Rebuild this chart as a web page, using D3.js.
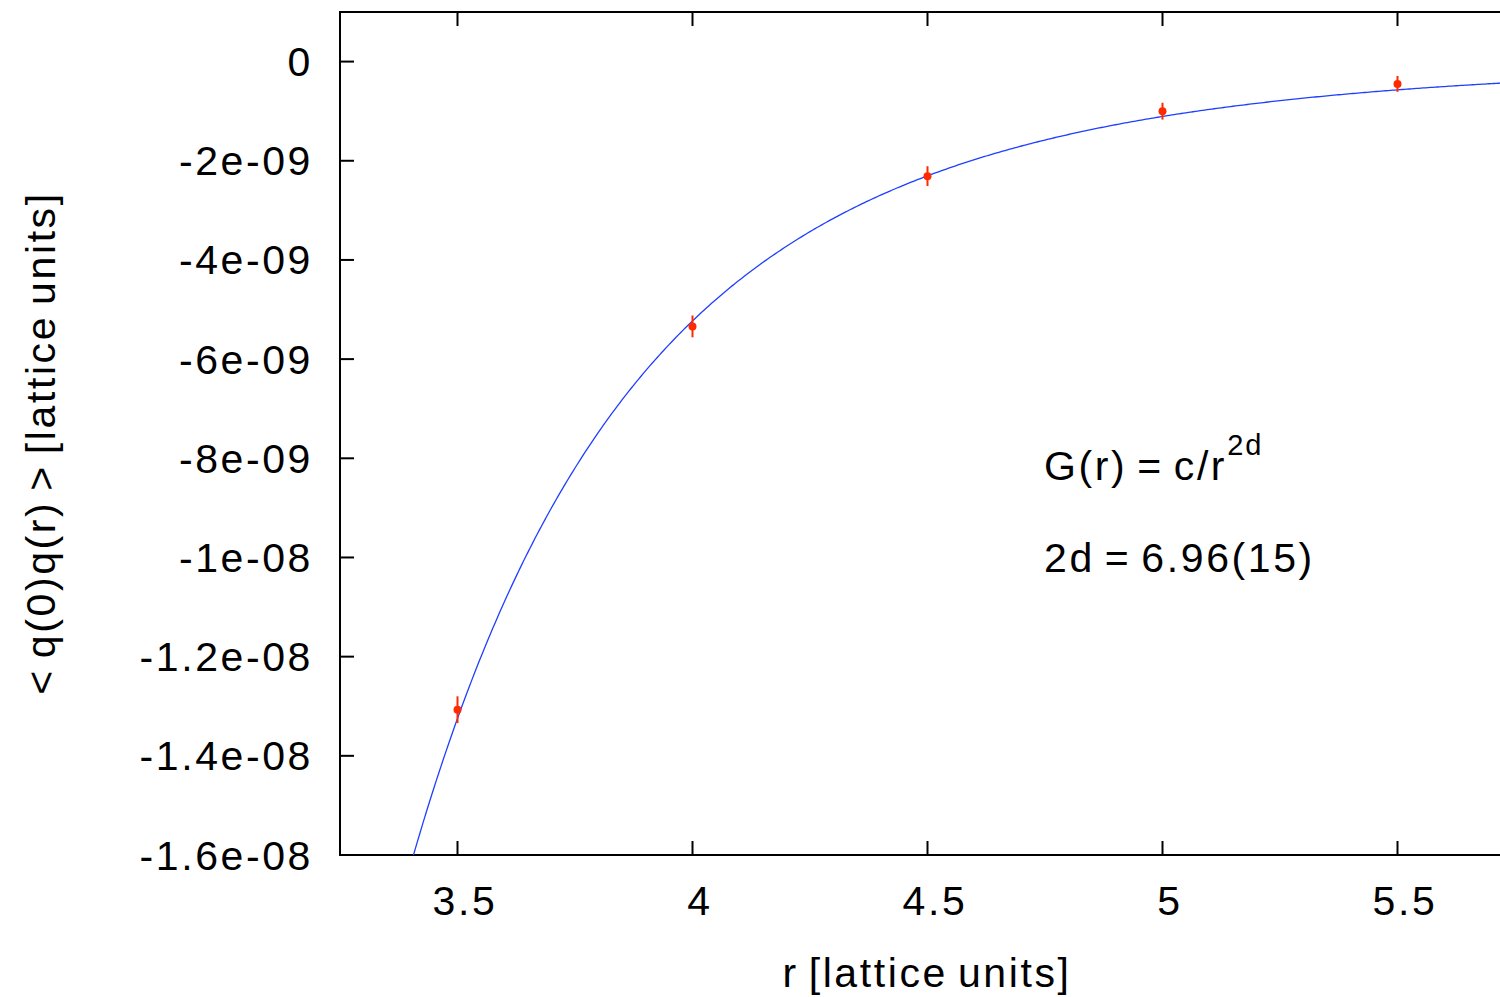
<!DOCTYPE html>
<html><head><meta charset="utf-8">
<script src="https://cdn.jsdelivr.net/npm/d3@7"></script>
<style>body{margin:0;background:#fff}svg{display:block}text{font-family:"Liberation Sans",Arial,Helvetica,sans-serif;fill:#000;letter-spacing:2.6px;word-spacing:-4px}</style>
</head><body>
<script>
const rValues = [3.5, 4.0, 4.5, 5.0, 5.5];
const gValues = [-1.307e-8, -5.34e-9, -2.31e-9, -1.00e-9, -0.45e-9];
const gErrors = [0.27e-9, 0.22e-9, 0.20e-9, 0.17e-9, 0.16e-9];
const xTicks = [3.5, 4, 4.5, 5, 5.5];
const xTickLabels = ["3.5", "4", "4.5", "5", "5.5"];
const yTicks = [0, -2e-9, -4e-9, -6e-9, -8e-9, -1e-8, -1.2e-8, -1.4e-8, -1.6e-8];
const yTickLabels = ["0", "-2e-09", "-4e-09", "-6e-09", "-8e-09", "-1e-08", "-1.2e-08", "-1.4e-08", "-1.6e-08"];
const fitC = -5.23e-9 * Math.pow(4, 6.96);
const fitExp = 6.96;

const W = 1500, H = 997;
const L = 340, T = 12, B = 855, R = 1515;
const FS = 41;
const svg = d3.select("body").append("svg").attr("width", W).attr("height", H);
const x = d3.scaleLinear().domain([3.25, 5.75]).range([L, R]);
const y = d3.scaleLinear().domain([-1.6e-8, 1e-9]).range([B, T]);

svg.append("defs").append("clipPath").attr("id", "clip")
  .append("rect").attr("x", L).attr("y", T).attr("width", R - L).attr("height", B - T);

// frame
svg.append("path").attr("d", `M${R},${T}H${L}V${B}H${R}`)
  .attr("fill", "none").attr("stroke", "#000").attr("stroke-width", 2);

// ticks
const tl = 14;
svg.append("g").selectAll("line").data(xTicks).join("line")
  .attr("x1", d => x(d)).attr("x2", d => x(d)).attr("y1", B).attr("y2", B - tl)
  .attr("stroke", "#000").attr("stroke-width", 2);
svg.append("g").selectAll("line").data(xTicks).join("line")
  .attr("x1", d => x(d)).attr("x2", d => x(d)).attr("y1", T).attr("y2", T + tl)
  .attr("stroke", "#000").attr("stroke-width", 2);
svg.append("g").selectAll("line").data(yTicks).join("line")
  .attr("x1", L).attr("x2", L + tl).attr("y1", d => y(d)).attr("y2", d => y(d))
  .attr("stroke", "#000").attr("stroke-width", 2);

svg.append("g").selectAll("text").data(xTicks).join("text")
  .attr("x", d => x(d) + 7.5).attr("y", 915).attr("text-anchor", "middle")
  .attr("font-size", FS).text((d, i) => xTickLabels[i]);
svg.append("g").selectAll("text").data(yTicks).join("text")
  .attr("x", 313).attr("y", d => y(d) + 14.5).attr("text-anchor", "end")
  .attr("font-size", FS).text((d, i) => yTickLabels[i]);

// axis labels
svg.append("text").attr("x", 927).attr("y", 987).attr("text-anchor", "middle")
  .attr("font-size", FS).text("r [lattice units]");
svg.append("text").attr("transform", "translate(55,443) rotate(-90)").attr("text-anchor", "middle")
  .attr("font-size", FS).text("< q(0)q(r) > [lattice units]");

// fit curve
const rs = d3.range(3.25, 5.76, 0.005);
svg.append("path").attr("clip-path", "url(#clip)")
  .datum(rs)
  .attr("d", d3.line().x(r => x(r)).y(r => y(fitC / Math.pow(r, fitExp))))
  .attr("fill", "none").attr("stroke", "#1f3fff").attr("stroke-width", 1.3);

// data points
const pts = svg.append("g");
pts.selectAll("line").data(rValues).join("line")
  .attr("x1", d => x(d)).attr("x2", d => x(d))
  .attr("y1", (d, i) => y(gValues[i] - gErrors[i])).attr("y2", (d, i) => y(gValues[i] + gErrors[i]))
  .attr("stroke", "#ff2a00").attr("stroke-width", 2);
pts.selectAll("circle").data(rValues).join("circle")
  .attr("cx", d => x(d)).attr("cy", (d, i) => y(gValues[i])).attr("r", 4)
  .attr("fill", "#ff2a00");

// annotation
const a = svg.append("text").attr("x", 1044).attr("y", 480).attr("font-size", FS);
a.append("tspan").text("G(r) = c/r");
a.append("tspan").attr("dy", -25).attr("font-size", 29).style("letter-spacing", "2px").text("2d");
svg.append("text").attr("x", 1044).attr("y", 572).attr("font-size", FS).text("2d = 6.96(15)");
</script>
</body></html>
